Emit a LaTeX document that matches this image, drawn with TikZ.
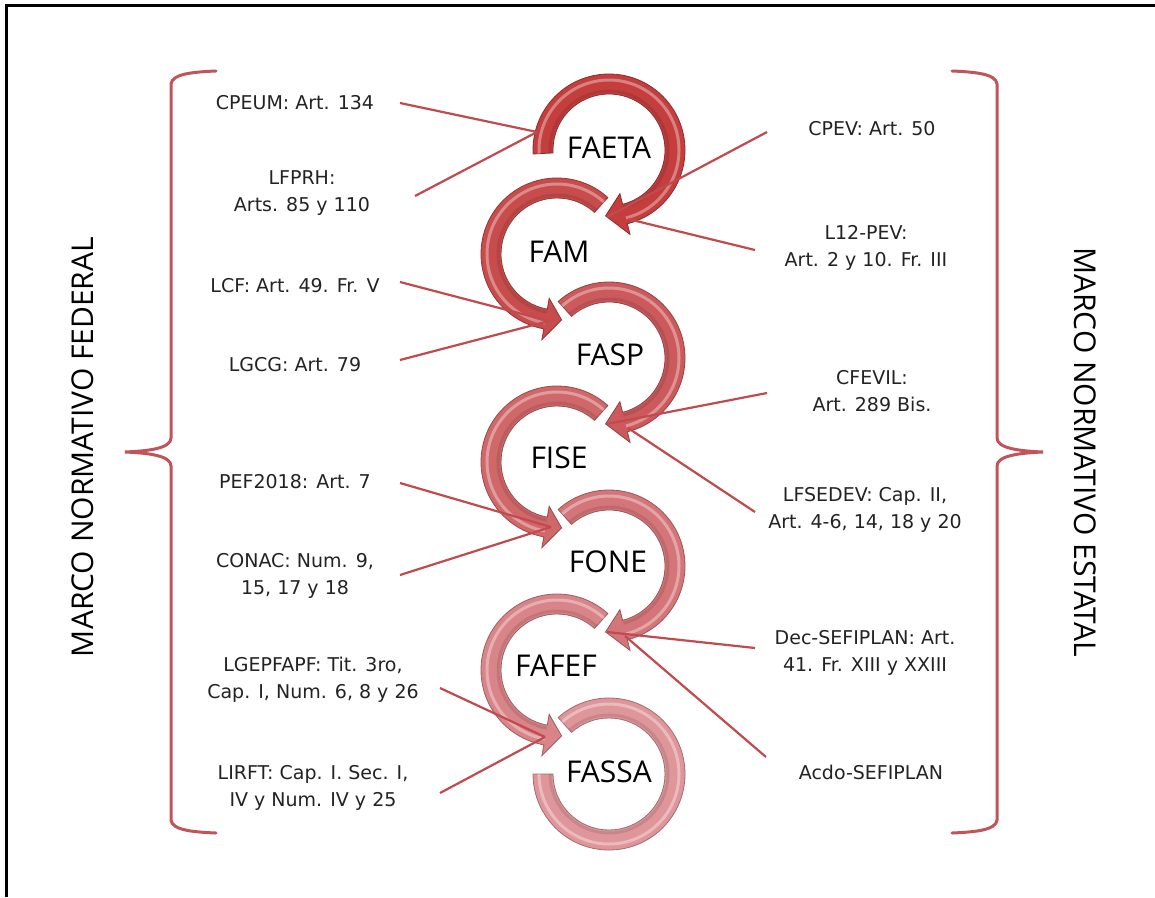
\documentclass[tikz,border=0pt]{standalone}
\usepackage{fontspec}
\setmainfont{DejaVu Sans}
\newfontfamily\ofont{Open Sans}
\usetikzlibrary{calc}
\definecolor{labc}{RGB}{35,35,35}
\definecolor{connc}{RGB}{192,74,78}
\definecolor{bracec}{RGB}{192,84,90}
\definecolor{c0}{RGB}{196,62,62}
\definecolor{c1}{RGB}{200,76,76}
\definecolor{c2}{RGB}{204,90,92}
\definecolor{c3}{RGB}{208,104,106}
\definecolor{c4}{RGB}{212,118,121}
\definecolor{c5}{RGB}{217,132,136}
\definecolor{c6}{RGB}{223,150,154}
% #1 centre, #2 start angle, #3 end of body, #4 tip angle, #5 colour
\newcommand{\myring}[5]{%
  \begin{scope}[shift={(#1)}]
    \fill[#5, draw=#5!72!black, line width=0.8pt]
      (#2:76) arc[start angle=#2, end angle=#3, radius=76]
      -- (#3:87) -- (#4:66) -- (#3:45) -- (#3:56)
      arc[start angle=#3, end angle=#2, radius=56] -- cycle;
    \draw[white, opacity=0.35, line width=3pt]
      (#2:70) arc[start angle=#2, end angle=#3, radius=70];
    \draw[black, opacity=0.10, line width=3pt]
      (#2:59) arc[start angle=#2, end angle=#3, radius=59];
  \end{scope}}
\tikzset{
  lab/.style={font=\fontsize{19}{27}\selectfont, text=labc, align=center, inner sep=0pt},
  big/.style={font=\ofont\fontsize{30}{36}\selectfont, text=black, inner sep=0pt},
  conn/.style={draw=connc, line width=2.2pt},
  brc/.style={draw=bracec, line width=3pt, line cap=round}
}
\begin{document}
\begin{tikzpicture}[x=1pt,y=-1pt]
\useasboundingbox (0,0) rectangle (1155,897);
\fill[white] (0,0) rectangle (1155,897);
\draw[line width=3pt] (6,897) -- (6,5) -- (1155,5);

% braces
\draw[brc] (216,71) .. controls (192,72) and (172,74) .. (171,84) -- (171,438)
  .. controls (171,448) and (150,451) .. (125,452)
  .. controls (150,453) and (171,456) .. (171,466) -- (171,820)
  .. controls (172,830) and (192,832) .. (216,833);
\draw[brc] (952,71) .. controls (976,72) and (996,74) .. (997,84) -- (997,438)
  .. controls (997,448) and (1018,451) .. (1043,452)
  .. controls (1018,453) and (997,456) .. (997,466) -- (997,820)
  .. controls (996,830) and (976,832) .. (952,833);

\node[big, rotate=90] (mf) at (83,447) {MARCO NORMATIVO FEDERAL};
\node[big, rotate=-90] (me) at (1085,452) {MARCO NORMATIVO ESTATAL};

% ring centres
\coordinate (C0) at (609,150);
\coordinate (C1) at (557,254);
\coordinate (C2) at (609,358);
\coordinate (C3) at (557,462);
\coordinate (C4) at (609,566);
\coordinate (C5) at (557,670);
\coordinate (C6) at (609,774);

\myring{C0}{-183}{76}{93}{c0}
\myring{C1}{-48}{-260}{-274}{c1}
\myring{C2}{-132}{76}{93}{c2}
\myring{C3}{-48}{-260}{-274}{c3}
\myring{C4}{-132}{76}{93}{c4}
\myring{C5}{-48}{-260}{-274}{c5}
\begin{scope}[shift={(C6)}]
  \fill[c6, draw=c6!72!black, line width=0.8pt]
    (-132:76) arc[start angle=-132, end angle=180, radius=76]
    -- (180:56) arc[start angle=180, end angle=-132, radius=56] -- cycle;
  \draw[white, opacity=0.35, line width=3pt]
    (-132:70) arc[start angle=-132, end angle=180, radius=70];
  \draw[black, opacity=0.10, line width=3pt]
    (-132:59) arc[start angle=-132, end angle=180, radius=59];
\end{scope}

% ring labels
\node[big] (faeta) at (609,148) {FAETA};
\node[big] (fam)   at (559,252) {FAM};
\node[big] (fasp)  at (610,355) {FASP};
\node[big] (fise)  at (559,458) {FISE};
\node[big] (fone)  at (608,562) {FONE};
\node[big] (fafef) at (556,666) {FAFEF};
\node[big] (fassa) at (609,772) {FASSA};

% left labels
\node[lab] (l1) at (295,103) {CPEUM: Art. 134};
\node[lab] (l2) at (302,193) {LFPRH:\\Arts. 85 y 110};
\node[lab] (l3) at (295,286) {LCF: Art. 49. Fr. V};
\node[lab] (l4) at (295,365) {LGCG: Art. 79};
\node[lab] (l5) at (295,482) {PEF2018: Art. 7};
\node[lab] (l6) at (295,576) {CONAC: Num. 9,\\15, 17 y 18};
\node[lab] (l7) at (313,680) {LGEPFAPF: Tit. 3ro,\\Cap. I, Num. 6, 8 y 26};
\node[lab] (l8) at (313,788) {LIRFT: Cap. I. Sec. I,\\IV y Num. IV y 25};
% right labels
\node[lab] (r1) at (872,129) {CPEV: Art. 50};
\node[lab] (r2) at (866,248) {L12-PEV:\\Art. 2 y 10. Fr. III};
\node[lab] (r3) at (872,391) {CFEVIL:\\Art. 289 Bis.};
\node[lab] (r4) at (865,510) {LFSEDEV: Cap. II,\\Art. 4-6, 14, 18 y 20};
\node[lab] (r5) at (865,653) {Dec-SEFIPLAN: Art.\\41. Fr. XIII y XXIII};
\node[lab] (r6) at (871,772) {Acdo-SEFIPLAN};

% connector end points
\coordinate (e0) at (537,132);
\coordinate (e1) at (607,217);
\coordinate (f1) at (628,219);
\coordinate (e2) at (549,321);
\coordinate (e3) at (607,424);
\coordinate (f3) at (628,428);
\coordinate (e4) at (551,527);
\coordinate (e5) at (607,632);
\coordinate (f5) at (625,636);
\coordinate (e6) at (545,737);
% connector start points
\coordinate (s1) at (400,103);
\coordinate (s2) at (415,196);
\coordinate (s3) at (400,282);
\coordinate (s4) at (400,360);
\coordinate (s5) at (400,483);
\coordinate (s6) at (400,575);
\coordinate (s7) at (440,688);
\coordinate (s8) at (440,793);
\coordinate (t1) at (767,132);
\coordinate (t2) at (755,250);
\coordinate (t3) at (767,393);
\coordinate (t4) at (755,512);
\coordinate (t5) at (755,648);
\coordinate (t6) at (766,757);

\draw[conn] (s1) -- (e0);
\draw[conn] (s2) -- (e0);
\draw[conn] (s3) -- (e2);
\draw[conn] (s4) -- (e2);
\draw[conn] (s5) -- (e4);
\draw[conn] (s6) -- (e4);
\draw[conn] (s7) -- (e6);
\draw[conn] (s8) -- (e6);
\draw[conn] (t1) -- (e1);
\draw[conn] (t2) -- (f1);
\draw[conn] (t3) -- (e3);
\draw[conn] (t4) -- (f3);
\draw[conn] (t5) -- (e5);
\draw[conn] (t6) -- (f5);
\end{tikzpicture}
\end{document}
